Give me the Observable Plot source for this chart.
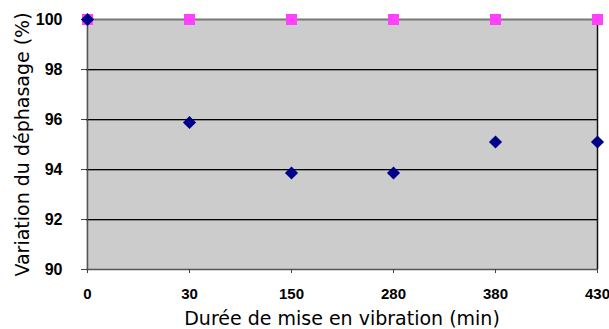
<!DOCTYPE html>
<html>
<head>
<meta charset="utf-8">
<script src="https://cdn.jsdelivr.net/npm/d3@7"></script>
<script src="https://cdn.jsdelivr.net/npm/@observablehq/plot@0.6"></script>
<style>
  html, body { margin: 0; padding: 0; background: #fff; }
  #chart svg { display: block; }
</style>
</head>
<body>
<div id="chart"></div>
<script>
const durations = ["0", "30", "150", "280", "380", "430"];
const phaseVariation = [100, 95.88, 93.86, 93.86, 95.1, 95.1];
const reference = [100, 100, 100, 100, 100, 100];
const yTicks = [90, 92, 94, 96, 98, 100];
const gridTicks = [92, 94, 96, 98];
const xTitle = "Durée de mise en vibration (min)";
const yTitle = "Variation du déphasage (%)";

const measured = durations.map((d, i) => ({d, v: phaseVariation[i]}));
const ref = durations.map((d, i) => ({d, v: reference[i]}));
const tickFont = {fontFamily: "Liberation Sans, Arial, sans-serif", fontWeight: "bold", fill: "#000"};

const chart = Plot.plot({
  width: 609,
  height: 329,
  marginLeft: 86,
  marginRight: 12,
  marginTop: 19,
  marginBottom: 60,
  x: {type: "point", domain: durations, padding: 0},
  y: {domain: [90, 100]},
  style: {background: "#fff", overflow: "visible"},
  marks: [
    Plot.frame({fill: "#cccccc", stroke: "none"}),
    Plot.ruleY(gridTicks, {stroke: "#888", strokeWidth: 1, dy: 1}),
    Plot.ruleY(gridTicks, {stroke: "#000", strokeWidth: 1.2}),
    Plot.ruleY([100], {stroke: "#777", strokeWidth: 2}),
    Plot.ruleY([90], {stroke: "#555", strokeWidth: 1.5}),
    Plot.ruleX(["0"], {stroke: "#555", strokeWidth: 1.5}),
    Plot.ruleX(["430"], {stroke: "#111", strokeWidth: 1.5}),
    Plot.axisY({ticks: yTicks, tickSize: 5, stroke: "#444", tickFormat: () => "", label: null}),
    Plot.axisX({tickSize: 4, stroke: "#444", tickFormat: () => "", label: null}),
    Plot.text(yTicks, {y: d => d, text: d => String(d), frameAnchor: "left", dx: -24,
      textAnchor: "end", lineAnchor: "middle", fontSize: 16, ...tickFont}),
    Plot.text(durations, {x: d => d, text: d => d, frameAnchor: "bottom", dy: 25,
      textAnchor: "middle", lineAnchor: "middle", fontSize: 15, ...tickFont}),
    Plot.dot(ref, {x: "d", y: "v", symbol: "square", r: 6.2, fill: "#ff40ff", stroke: "none"}),
    Plot.dot(measured, {x: "d", y: "v", symbol: "diamond2", r: 5.9, fill: "#00008b", stroke: "none"}),
    Plot.text([xTitle], {frameAnchor: "bottom", dy: 55, text: d => d, lineAnchor: "bottom",
      textAnchor: "middle", fontFamily: "DejaVu Sans, Verdana, sans-serif", fontSize: 19, fill: "#000"}),
    Plot.text([yTitle], {frameAnchor: "left", dx: -64, rotate: -90, text: d => d,
      textAnchor: "middle", lineAnchor: "middle",
      fontFamily: "DejaVu Sans, Verdana, sans-serif", fontSize: 19, fill: "#000"})
  ]
});
document.getElementById("chart").appendChild(chart);
</script>
</body>
</html>
